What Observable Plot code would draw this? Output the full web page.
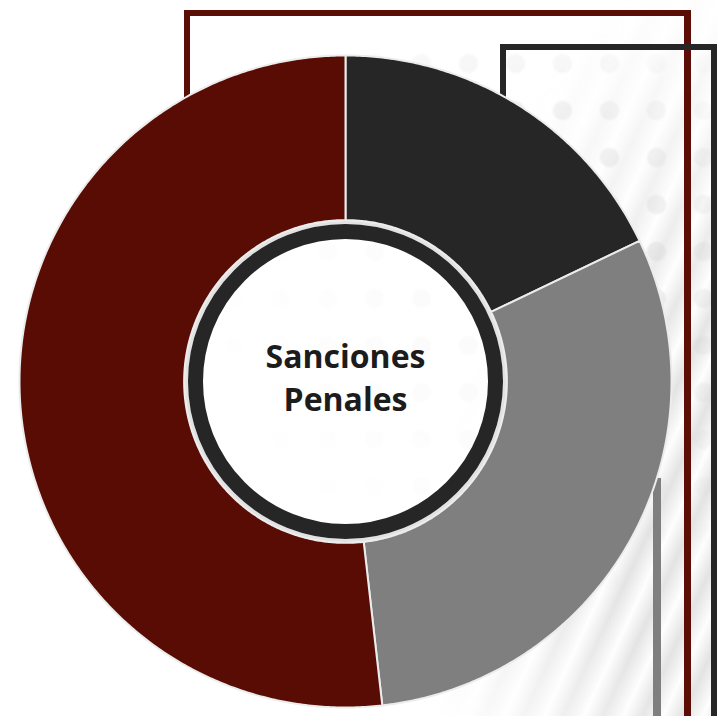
<!DOCTYPE html>
<html>
<head>
<meta charset="utf-8">
<script src="https://cdn.jsdelivr.net/npm/d3@7"></script>
<script src="https://cdn.jsdelivr.net/npm/@observablehq/plot@0.6"></script>
<style>
  html, body { margin: 0; padding: 0; background: white; }
  #wrap { position: relative; width: 717px; height: 716px; overflow: hidden; background: white; }
  .deco { position: absolute; }
  #dots {
    left: 200px; top: 40px; width: 517px; height: 560px;
    background-image: radial-gradient(circle, #e8e8e8 0, #e8e8e8 8px, rgba(255,255,255,0) 11px);
    background-size: 47px 47px;
    background-position: 10px 0;
    -webkit-mask-image: radial-gradient(ellipse at 60% 45%, rgba(0,0,0,0.9) 20%, rgba(0,0,0,0) 75%);
    mask-image: radial-gradient(ellipse at 60% 45%, rgba(0,0,0,0.9) 20%, rgba(0,0,0,0) 75%);
  }
  #streaks {
    left: 440px; top: 0px; width: 277px; height: 716px;
    background: repeating-linear-gradient(115deg, rgba(225,225,225,0.0) 0px, rgba(205,205,205,0.55) 18px, rgba(240,240,240,0.2) 36px);
    -webkit-mask-image: radial-gradient(ellipse at 100% 75%, rgba(0,0,0,1) 25%, rgba(0,0,0,0) 75%);
    mask-image: radial-gradient(ellipse at 100% 75%, rgba(0,0,0,1) 25%, rgba(0,0,0,0) 75%);
  }
  #chart { position: absolute; left: 0; top: 0; }
</style>
</head>
<body>
<div id="wrap">
  <div id="dots" class="deco"></div>
  <div id="streaks" class="deco"></div>
  <!-- decorative frame lines -->
  <div class="deco" style="left:184px; top:10px; width:507px; height:6px; background:#5a0e05;"></div>
  <div class="deco" style="left:184px; top:10px; width:6px; height:100px; background:#5a0e05;"></div>
  <div class="deco" style="left:684px; top:10px; width:7px; height:706px; background:#5a0e05;"></div>
  <div class="deco" style="left:500px; top:44px; width:217px; height:6px; background:#262626;"></div>
  <div class="deco" style="left:500px; top:44px; width:6px; height:70px; background:#262626;"></div>
  <div class="deco" style="left:711px; top:44px; width:6px; height:672px; background:#262626;"></div>
  <div class="deco" style="left:653px; top:478px; width:8px; height:238px; background:#7f7f7f;"></div>
  <div id="chart"></div>
</div>
<script>
// ---- data ----
const categories = ["Categoría 1", "Categoría 2", "Categoría 3"];
const values = [17.9, 30.3, 51.8];
const colors = ["#262626", "#7f7f7f", "#580c04"];
const centerLines = ["Sanciones", "Penales"];

// ---- build donut slice outlines from values ----
const total = d3.sum(values);
const innerR = 0.495;
const rows = [];
let acc = 0;
values.forEach((v, i) => {
  const a0 = acc / total * 2 * Math.PI;
  acc += v;
  const a1 = acc / total * 2 * Math.PI;
  const n = Math.max(8, Math.ceil((a1 - a0) / (Math.PI / 360)));
  for (let k = 0; k <= n; k++) {
    const a = a0 + (a1 - a0) * k / n;
    rows.push({cat: categories[i], x: Math.sin(a), y: Math.cos(a)});
  }
  for (let k = n; k >= 0; k--) {
    const a = a0 + (a1 - a0) * k / n;
    rows.push({cat: categories[i], x: innerR * Math.sin(a), y: innerR * Math.cos(a)});
  }
});

const center = [{x: 0, y: 0, label: centerLines.join("\n")}];

const chart = Plot.plot({
  width: 717,
  height: 716,
  marginLeft: 19,
  marginRight: 46,
  marginTop: 55,
  marginBottom: 9,
  style: {background: "transparent", overflow: "visible"},
  x: {domain: [-1, 1], axis: null},
  y: {domain: [-1, 1], axis: null},
  color: {domain: categories, range: colors},
  marks: [
    Plot.line(rows, {x: "x", y: "y", z: "cat", fill: "cat", stroke: "#ececec", strokeWidth: 2, curve: "linear-closed"}),
    Plot.dot(center, {x: "x", y: "y", r: 159, fill: "white", fillOpacity: 0.8, stroke: "#e2e2e2", strokeWidth: 3}),
    Plot.dot(center, {x: "x", y: "y", r: 150, fill: "none", stroke: "#262626", strokeWidth: 15}),
    Plot.text(center, {x: "x", y: "y", text: "label", fontSize: 32, fontWeight: 700, fontFamily: "Open Sans", fill: "#1c1c1c", lineHeight: 1.35, dy: -6})
  ]
});
document.getElementById("chart").appendChild(chart);
</script>
</body>
</html>
